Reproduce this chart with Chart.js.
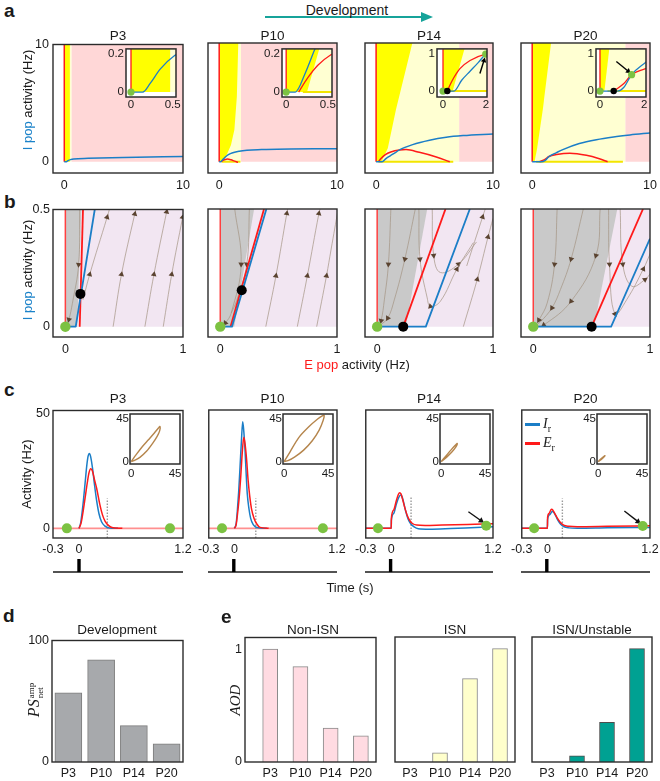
<!DOCTYPE html>
<html>
<head>
<meta charset="utf-8">
<title>E-I network development</title>
<script src="https://cdn.jsdelivr.net/npm/chart.js@4.4.1/dist/chart.umd.min.js"></script>
<style>
  body { margin: 0; width: 660px; height: 781px; position: relative; overflow: hidden; background: #fff;
         font-family: "Liberation Sans", Arial, sans-serif; color: #1a1a1a; }
  canvas { position: absolute; }
  .txt { position: absolute; white-space: nowrap; line-height: 1; transform: translate(-50%, -50%); font-size: 13px; z-index: 5; }
  .left { transform: translate(0, -50%); }
  .rot { transform: translate(-50%, -50%) rotate(-90deg); }
  .letter { position: absolute; font-weight: bold; font-size: 19px; line-height: 19px; z-index: 5; }
  .serif { font-family: "Liberation Serif", "Times New Roman", serif; }
</style>
</head>
<body>
<svg style="position:absolute;left:260px;top:10px" width="180" height="16">
  <line x1="5" y1="7" x2="166" y2="7" stroke="#16a39a" stroke-width="2"/>
  <polygon points="161,2 173,7 161,12" fill="#16a39a"/>
</svg>
<script>
var ages = ['P3', 'P10', 'P14', 'P20'];

// ---------- a : phase plane, full view and zoomed inset ----------
var aTicks = [0, 10];
var aInsTicksX = [[0, 0.5], [0, 0.5], [0, 2], [0, 2]];
var aInsTicksY = [[0, 0.2], [0, 0.2], [0, 1], [0, 1]];
var aPinkStart = [0.6, 1.85, 7.1, 7.9];
var aYellowP3 = [[0, 0], [0.47, 0], [0.47, 10], [0, 10]];
var aYellowP10 = [[0, 0], [0.25, 0], [0.4, 0.23], [0.65, 0.6], [1.0, 1.4], [1.29, 2.7], [1.5, 5.5], [1.62, 10], [0, 10]];
var aYellowP14 = [[0, 0], [0.45, 0], [1.0, 1.13], [1.7, 4.4], [3.1, 10], [0, 10]];
var aYellowP20 = [[0, 0], [0.2, 0], [0.42, 1.13], [0.9, 4.4], [1.6, 10], [0, 10]];
var aFloorP10 = [[0.2, 0], [1.8, 0]];
var aFloorP14 = [[0.2, 0], [6.6, 0]];
var aFloorP20 = [[0.34, 0], [7.7, 0]];
var aRedAxis = [[0, 0], [0, 10]];
var aBlueP3 = [[0, 0], [0.14, 0], [0.23, 0.045], [0.35, 0.12], [0.52, 0.19], [0.8, 0.25], [2, 0.3], [5, 0.37], [10, 0.45]];
var aBlueP10 = [[0, 0], [0.11, 0], [0.23, 0.1], [0.34, 0.22], [0.5, 0.38], [0.78, 0.6], [1.7, 0.88], [3.6, 1.02], [10, 1.1]];
var aRedP10 = [[0.15, 0], [0.26, 0.075], [0.38, 0.14], [0.52, 0.19], [0.7, 0.22], [1.0, 0.16], [1.3, 0.05], [1.6, -0.05]];
var aBlueP14 = [[0, 0], [0.51, 0], [0.87, 0.29], [1.26, 0.53], [1.65, 0.77], [2.0, 1.0], [3.13, 1.44], [4.57, 1.81], [6.0, 2.06], [7.44, 2.2], [10, 2.34]];
var aRedP14 = [[0.2, 0], [0.4, 0.25], [0.79, 0.6], [1.26, 0.82], [1.99, 0.99], [2.56, 1.02], [3.7, 0.79], [5.15, 0.4], [6.3, 0]];
var aBlueP20 = [[0, 0], [0.8, 0], [1.08, 0.1], [1.43, 0.44], [2.07, 0.77], [2.6, 1.02], [4.0, 1.53], [5.45, 1.86], [6.9, 2.09], [8.3, 2.26], [10, 2.43]];
var aRedP20 = [[0.62, 0], [1.08, 0.2], [1.43, 0.44], [2.07, 0.6], [3.2, 0.71], [4.6, 0.54], [5.7, 0.25], [6.4, 0]];
var aGreenP3 = [[0, 0]];
var aGreenP10 = [[0, 0]];
var aGreenP14 = [[0, 0], [1.99, 0.99]];
var aGreenP20 = [[0, 0], [1.43, 0.44]];
var aBlackP14 = [[0.2, 0]];
var aBlackP20 = [[0.62, 0]];
var aArrowP14 = [[1.72, 0.47], [1.91, 0.82]];
var aArrowP20 = [[0.74, 0.79], [1.28, 0.53]];

// ---------- b : zoom on the low-rate corner with trajectories ----------
var bTicksX = [0, 1];
var bTicksY = [0, 0.5];
var bGrayP3 = [[0, 0], [0.1, 0], [0.136, 0.5], [0, 0.5]];
var bGrayP10 = [[0, 0], [0.12, 0], [0.29, 0.5], [0, 0.5]];
var bGrayP14 = [[0, 0], [0.247, 0], [0.432, 0.5], [0, 0.5]];
var bGrayP20 = [[0, 0], [0.52, 0], [0.72, 0.5], [0, 0.5]];
var bRedAxis = [[0, 0], [0, 0.5]];
var bRedP3 = [[0.122, 0], [0.15, 0.5]];
var bRedP10 = [[0.088, 0], [0.375, 0.5]];
var bRedP14 = [[0.225, 0], [0.59, 0.5]];
var bRedP20 = [[0.5, 0], [0.94, 0.5]];
var bBlueP3 = [[0, 0], [0.088, 0], [0.25, 0.5]];
var bBlueP10 = [[0, 0], [0.1, 0], [0.395, 0.5]];
var bBlueP14 = [[0, 0], [0.42, 0], [0.8, 0.5]];
var bBlueP20 = [[0, 0], [0.667, 0], [1.0, 0.374], [1.11, 0.5]];
var bGreen = [[0, 0]];
var bBlack = [[0.128, 0.14], [0.184, 0.155], [0.225, 0], [0.5, 0]];
var bFlowsP3 = [
  [[0.15, 0.115], [0.207, 0.223], [0.355, 0.467], [0.378, 0.507]],
  [[0.406, 0], [0.477, 0.223], [0.59, 0.481], [0.605, 0.507]],
  [[0.676, 0], [0.753, 0.223], [0.861, 0.49], [0.87, 0.507]],
  [[0.832, 0], [0.904, 0.223], [0.997, 0.467], [1.01, 0.5]],
  [[0.122, 0.507], [0.113, 0.265], [0.06, 0.1], [0.03, 0.03], [0.01, 0.005]]
];
var bHeadsP3 = [[1, 2], [1, 2], [1, 2], [1, 2], [1, 3]];
var bFlowsP10 = [
  [[0.122, 0.507], [0.179, 0.265], [0.094, 0.058], [0.043, 0.015], [0.01, 0.003]],
  [[0.25, 0.507], [0.227, 0.265], [0.14, 0.11], [0.094, 0.058]],
  [[0.39, 0], [0.477, 0.216], [0.57, 0.481], [0.58, 0.507]],
  [[0.66, 0], [0.746, 0.216], [0.845, 0.481], [0.86, 0.507]],
  [[0.826, 0], [0.91, 0.216], [0.95, 0.33], [1.01, 0.5]]
];
var bHeadsP10 = [[1, 3], [1], [1, 2], [1, 2], [1]];
var bFlowsP14 = [
  [[0.119, 0.507], [0.097, 0.265], [0.062, 0.114], [0.034, 0.025], [0.01, 0.003]],
  [[0.332, 0.507], [0.239, 0.287], [0.148, 0.114], [0.091, 0.036], [0.02, 0.004]],
  [[0.36, 0.507], [0.37, 0.287], [0.432, 0.122], [0.46, 0.086], [0.546, 0.108], [0.688, 0.244], [0.83, 0.357]],
  [[0.475, 0.507], [0.488, 0.302], [0.546, 0.23], [0.702, 0.266], [0.858, 0.36]],
  [[0.744, 0], [0.864, 0.201], [0.957, 0.381], [1.0, 0.46]],
  [[0.773, 0.258], [0.91, 0.466], [0.937, 0.506]]
];
var bHeadsP14 = [[1, 3], [1, 3], [1, 3, 5], [1, 3], [1, 2], [1]];
var bFlowsP20 = [
  [[0.205, 0.507], [0.182, 0.265], [0.119, 0.1], [0.048, 0.028], [0.01, 0.003]],
  [[0.432, 0.507], [0.324, 0.287], [0.233, 0.158], [0.16, 0.08], [0.06, 0.02], [0.01, 0.003]],
  [[0.574, 0.507], [0.537, 0.302], [0.324, 0.108], [0.09, 0.007], [0.02, 0.001]],
  [[0.645, 0.507], [0.653, 0.265], [0.7, 0.054], [0.801, 0.115], [0.943, 0.245], [1.01, 0.32]],
  [[0.744, 0.507], [0.767, 0.265], [0.844, 0.172], [0.957, 0.2], [1.01, 0.23]]
];
var bHeadsP20 = [[1, 3], [1, 3], [1, 2, 3], [1, 2, 4], [1, 3]];

// ---------- c : responses to a brief stimulus (time in s, rate in Hz) ----------
var cTicksX = [-0.3, 0, 1.2];
var cTicksY = [0, 50];
var cInsTicks = [0, 45];
var cBase = [[-0.3, 0], [1.2, 0]];
var cP3I = [[0, 0], [0.02, 2.5], [0.045, 10], [0.07, 19.6], [0.09, 27.5], [0.105, 31.5], [0.12, 32.6], [0.135, 31.2], [0.155, 26.5], [0.177, 19.6], [0.2, 13], [0.23, 6.5], [0.26, 2.9], [0.3, 1.0], [0.35, 0.2], [0.45, 0]];
var cP3E = [[0, 0], [0.025, 2.5], [0.05, 8], [0.075, 14.5], [0.096, 20], [0.115, 24.2], [0.135, 26], [0.155, 25], [0.18, 21], [0.204, 17.4], [0.24, 10.5], [0.27, 6], [0.3, 3.2], [0.34, 1.3], [0.38, 0.4], [0.5, 0]];
var cP10I = [[0, 0], [0.02, 2], [0.035, 8], [0.05, 16], [0.066, 26.8], [0.082, 38], [0.097, 46.3], [0.11, 42], [0.124, 34], [0.137, 24], [0.15, 15.2], [0.17, 8.5], [0.19, 4.3], [0.22, 1.6], [0.26, 0.4], [0.38, 0]];
var cP10E = [[0, 0], [0.02, 1.5], [0.035, 5.8], [0.055, 13], [0.074, 22.4], [0.092, 33], [0.11, 39.6], [0.125, 36.5], [0.143, 29.7], [0.16, 21], [0.18, 13.7], [0.2, 8.5], [0.23, 4.3], [0.26, 2], [0.3, 0.4], [0.4, 0]];
var cP14I = [[-0.3, 0], [0, 0], [0.002, 3.5], [0.03, 6.5], [0.06, 10.5], [0.09, 13.5], [0.11, 14.5], [0.125, 14], [0.145, 11.5], [0.17, 7.5], [0.2, 4], [0.23, 2], [0.27, 0.6], [0.32, -0.2], [0.45, -0.4], [0.7, -0.1], [1.0, 0.4], [1.2, 0.7]];
var cP14E = [[-0.3, 0], [0, 0], [0.002, 4.5], [0.03, 8], [0.06, 12], [0.085, 14.8], [0.1, 15.5], [0.115, 15], [0.135, 12.5], [0.16, 9], [0.19, 5.5], [0.22, 3.3], [0.25, 2.1], [0.3, 1.4], [0.4, 1.2], [0.6, 1.4], [0.9, 1.7], [1.2, 2.0]];
var cP20I = [[-0.3, 0], [0, 0], [0.002, 3.8], [0.03, 6], [0.055, 7.3], [0.07, 7.1], [0.095, 5.6], [0.125, 3.4], [0.155, 1.8], [0.19, 0.8], [0.25, 0.2], [0.35, 0], [0.7, 0.2], [1.2, 0.4]];
var cP20E = [[-0.3, 0], [0, 0], [0.002, 4.8], [0.02, 6.5], [0.04, 8], [0.05, 8.3], [0.065, 7.8], [0.09, 6.2], [0.12, 4.2], [0.15, 2.6], [0.19, 1.4], [0.25, 0.9], [0.35, 0.7], [0.7, 0.85], [1.2, 1.1]];
var cDotX = [0.327, 0.25, 0.234, 0.175];
var cDotTop = [13, 13, 13.7, 13];
var cGreenP3 = [[-0.14, 0], [1.05, 0]];
var cGreenP10 = [[-0.145, 0], [1.035, 0]];
var cGreenP14 = [[-0.156, 0], [1.12, 1.1]];
var cGreenP20 = [[-0.155, 0], [1.115, 1.0]];
var cArrowP14 = [[0.91, 7.2], [1.06, 3.3]];
var cArrowP20 = [[0.9, 7.5], [1.06, 2.9]];
var cLoopP3 = [[0, 0], [5, 7], [11, 15], [18, 23], [24, 30], [28, 35], [29.6, 36.6], [29.2, 32], [26.5, 26], [22, 19], [16, 11], [9, 4.5], [3, 1], [0, 0]];
var cLoopP10 = [[0, 0], [6, 10], [15, 25], [25, 36], [34, 44], [39, 47.5], [41, 48], [40, 43], [36, 33], [29, 22], [20, 12], [11, 5], [4, 1], [0, 0]];
var cLoopP14 = [[0, 0], [5, 6], [10, 12], [14, 16.5], [16.5, 19], [15, 15], [11, 10], [6, 5], [2, 1.5], [0, 0]];
var cLoopP20 = [[0, 0], [3, 3], [7, 6.2], [6, 4.8], [3, 2], [0, 0]];
var stimSpan = [[-0.3, 0], [1.2, 0]];
var stimPulse = [[0, 0], [0, 1]];

// ---------- d / e : bar summaries ----------
var dTicksY = [0, 100];
var dValues = [57, 84, 30, 15];
var eTicksY = [0, 1];
var eNonISN = [1.0, 0.845, 0.3, 0.232];
var eISN = [0, 0.08, 0.735, 1.0];
var eUnstable = [0, 0.055, 0.35, 1.0];

// ---------- styles ----------
var RED = '#ff1a1a', BLUE = '#1b7ec7', GREEN = '#7cc242', PINK = '#ffd7d7', YELLOW = '#ffff00',
    CREAM = '#ffffd2', LAV = '#f2e6f2', GRAY = '#c9c9c9', FLOW = '#a39383', HEAD = '#5a4330',
    TAN = '#b5854c';
var colX = [53, 208, 365, 521];
var colW = [130, 129, 128, 129];

Chart.defaults.font.family = '"Liberation Sans", Arial, sans-serif';
Chart.defaults.font.size = 12.5;
Chart.defaults.color = '#1a1a1a';

// box around every plot area, optional white fill for the insets
Chart.register({
  id: 'frame',
  defaults: {lw: 1.4},
  beforeDatasetsDraw: function (chart, args, opts) {
    if (!opts.bg) return;
    var a = chart.chartArea, ctx = chart.ctx;
    ctx.save();
    ctx.fillStyle = opts.bg;
    ctx.fillRect(a.left, a.top, a.right - a.left, a.bottom - a.top);
    ctx.restore();
  },
  afterDatasetsDraw: function (chart, args, opts) {
    if (opts.off) return;
    var a = chart.chartArea, ctx = chart.ctx;
    ctx.save();
    ctx.strokeStyle = '#2b2b2b';
    ctx.lineWidth = opts.lw;
    ctx.strokeRect(a.left, a.top, a.right - a.left, a.bottom - a.top);
    ctx.restore();
  }
});

function pts(a) {
  return a.map(function (p) { return {x: p[0], y: p[1]}; });
}

function place(box, m) {
  var cv = document.createElement('canvas');
  var w = box.w + m.l + m.r, h = box.h + m.t + m.b;
  cv.width = w;
  cv.height = h;
  cv.style.cssText = 'left:' + (box.x - m.l) + 'px;top:' + (box.y - m.t) + 'px;width:' + w + 'px;height:' + h + 'px';
  document.body.appendChild(cv);
  return cv;
}

function axis(s, size) {
  return {
    type: 'linear', min: s.min, max: s.max, bounds: 'data', offset: false,
    grid: {display: false, drawTicks: false},
    border: {display: false},
    ticks: {
      display: !!s.show, autoSkip: false, maxRotation: 0, padding: s.pad || 3,
      font: {size: s.font || 12.5}, color: '#1a1a1a',
      callback: s.fmt || function (v) { return String(v); }
    },
    afterBuildTicks: function (sc) { sc.ticks = s.ticks.map(function (v) { return {value: v}; }); },
    afterFit: function (sc) { if (sc.isHorizontal()) sc.height = size; else sc.width = size; }
  };
}

function makeChart(box, m, xs, ys, datasets, frame, type) {
  return new Chart(place(box, m), {
    type: type || 'line',
    data: {datasets: datasets},
    options: {
      responsive: false, animation: false, devicePixelRatio: 1, events: [],
      layout: {padding: {top: m.t, right: m.r, left: 0, bottom: 0}},
      scales: {x: axis(xs, m.b), y: axis(ys, m.l)},
      plugins: {legend: {display: false}, tooltip: {enabled: false}, frame: frame || {}}
    }
  });
}

function headAngle(ctx) {
  var d = ctx.dataset.data, i = ctx.dataIndex;
  var p = d[i - 1] || d[i], n = d[i + 1] || d[i];
  var sx = ctx.chart.scales.x, sy = ctx.chart.scales.y;
  var dx = sx.getPixelForValue(n.x) - sx.getPixelForValue(p.x);
  var dy = sy.getPixelForValue(n.y) - sy.getPixelForValue(p.y);
  return Math.atan2(dx, -dy) * 180 / Math.PI;
}

function region(poly, color, order) {
  return {data: pts(poly), fill: 'shape', backgroundColor: color, borderColor: 'rgba(0,0,0,0)',
          borderWidth: 0, pointRadius: 0, tension: 0, order: order};
}

function curve(a, color, width, order, smooth, dash) {
  return {data: pts(a), borderColor: color, borderWidth: width, order: order, pointRadius: 0,
          fill: false, tension: smooth === 'loop' ? 0.3 : 0,
          cubicInterpolationMode: smooth === true ? 'monotone' : 'default',
          borderDash: dash || [], borderJoinStyle: 'round'};
}

function dots(a, color, r, order) {
  return {data: pts(a), showLine: false, pointRadius: r, pointBackgroundColor: color,
          pointBorderWidth: 0, order: order};
}

function arrow(a, color, width, head) {
  return {data: pts(a), borderColor: color, borderWidth: width, order: 3, tension: 0,
          pointStyle: 'triangle', pointBackgroundColor: color, pointBorderWidth: 0,
          pointRadius: function (ctx) { return ctx.dataIndex === a.length - 1 ? head : 0; },
          pointRotation: headAngle};
}

function flow(a, heads) {
  return {data: pts(a), borderColor: FLOW, borderWidth: 0.7, order: 20, tension: 0.4,
          pointStyle: 'triangle', pointBackgroundColor: HEAD, pointBorderWidth: 0,
          pointRadius: function (ctx) { return heads.indexOf(ctx.dataIndex) >= 0 ? 3.3 : 0; },
          pointRotation: headAngle};
}

function text(html, x, y, size, cls) {
  var d = document.createElement('div');
  d.className = 'txt' + (cls ? ' ' + cls : '');
  d.style.left = x + 'px';
  d.style.top = y + 'px';
  if (size) d.style.fontSize = size + 'px';
  d.innerHTML = html;
  document.body.appendChild(d);
  return d;
}

function letter(ch, x, y) {
  var d = document.createElement('div');
  d.className = 'letter';
  d.style.left = x + 'px';
  d.style.top = y + 'px';
  d.textContent = ch;
  document.body.appendChild(d);
}

// ---------- panel a ----------
var aYellow = [aYellowP3, aYellowP10, aYellowP14, aYellowP20];
var aFloor = [null, aFloorP10, aFloorP14, aFloorP20];
var aBlue = [aBlueP3, aBlueP10, aBlueP14, aBlueP20];
var aRed = [null, aRedP10, aRedP14, aRedP20];
var aGreen = [aGreenP3, aGreenP10, aGreenP14, aGreenP20];
var aBlack = [null, null, aBlackP14, aBlackP20];
var aArrow = [null, null, aArrowP14, aArrowP20];
var aInsX = [126, 282, 437, 596];
var aInsRangeX = [[-0.06, 0.54], [-0.05, 0.55], [-0.28, 2.05], [-0.18, 2.08]];
var aInsRangeY = [[-0.026, 0.226], [-0.026, 0.226], [-0.16, 1.13], [-0.16, 1.13]];

function aSets(i, inset) {
  var top = aTicks[1], right = aTicks[1], lw = inset ? 1.3 : 1.5;
  var s = [
    region([[aPinkStart[i], 0], [right, 0], [right, top], [aPinkStart[i], top]], PINK, 30),
    region([[0, 0], [aPinkStart[i], 0], [aPinkStart[i], top], [0, top]], CREAM, 29),
    region(aYellow[i], YELLOW, 28)
  ];
  if (aFloor[i]) s.push(curve(aFloor[i], '#f3e500', 2, 27));
  s.push(curve(aRedAxis, RED, lw, 10));
  if (aRed[i]) s.push(curve(aRed[i], RED, lw, 9, true));
  s.push(curve(aBlue[i], BLUE, lw, 8, true));
  if (inset) {
    s.push(dots(aGreen[i], GREEN, 3.6, 2));
    if (aBlack[i]) s.push(dots(aBlack[i], '#000', 3.2, 1));
    if (aArrow[i]) s.push(arrow(aArrow[i], '#000', 1.4, 3.2));
  }
  return s;
}

for (var i = 0; i < 4; i++) {
  makeChart({x: colX[i], y: 43, w: colW[i], h: 130}, {l: i ? 14 : 30, r: 14, t: 10, b: 22},
    {min: -0.95, max: 10, ticks: aTicks, show: true, pad: 5},
    {min: -0.95, max: 10, ticks: aTicks, show: i === 0, pad: 4},
    aSets(i, false));
}
for (i = 0; i < 4; i++) {
  makeChart({x: aInsX[i], y: 48, w: 50, h: 49}, {l: 22, r: 10, t: 8, b: 14},
    {min: aInsRangeX[i][0], max: aInsRangeX[i][1], ticks: aInsTicksX[i], show: true, pad: 1, font: 11.5},
    {min: aInsRangeY[i][0], max: aInsRangeY[i][1], ticks: aInsTicksY[i], show: true, pad: 2, font: 11.5},
    aSets(i, true), {bg: '#fff', lw: 1.5});
}

// ---------- panel b ----------
var bGray = [bGrayP3, bGrayP10, bGrayP14, bGrayP20];
var bRed = [bRedP3, bRedP10, bRedP14, bRedP20];
var bBlue = [bBlueP3, bBlueP10, bBlueP14, bBlueP20];
var bFlows = [bFlowsP3, bFlowsP10, bFlowsP14, bFlowsP20];
var bHeads = [bHeadsP3, bHeadsP10, bHeadsP14, bHeadsP20];

function bSets(i) {
  var top = bTicksY[1], right = bTicksX[1] + 0.2;
  var s = [
    region([[0, 0], [right, 0], [right, top], [0, top]], LAV, 30),
    region(bGray[i], GRAY, 29)
  ];
  bFlows[i].forEach(function (f, k) { s.push(flow(f, bHeads[i][k])); });
  s.push(curve(bRedAxis, '#ff4040', 1.5, 10));
  s.push(curve(bRed[i], RED, 1.8, 9));
  s.push(curve(bBlue[i], BLUE, 1.8, 8));
  s.push(dots(bGreen, GREEN, 5.2, 2));
  s.push(dots([bBlack[i]], '#000', 5, 1));
  return s;
}

for (i = 0; i < 4; i++) {
  makeChart({x: colX[i], y: 209, w: colW[i], h: 128}, {l: i ? 14 : 30, r: 14, t: 10, b: 22},
    {min: -0.105, max: 1, ticks: bTicksX, show: true, pad: 5},
    {min: -0.044, max: 0.5, ticks: bTicksY, show: i === 0, pad: 3},
    bSets(i));
}

// ---------- panel c ----------
var cI = [cP3I, cP10I, cP14I, cP20I];
var cE = [cP3E, cP10E, cP14E, cP20E];
var cGreen = [cGreenP3, cGreenP10, cGreenP14, cGreenP20];
var cArrow = [null, null, cArrowP14, cArrowP20];
var cLoop = [cLoopP3, cLoopP10, cLoopP14, cLoopP20];
var cInsX = [130, 283, 440, 597];
var cYMin = -4.2;

function cSets(i) {
  var s = [];
  if (i < 2) s.push(curve(cBase, '#ff8f8f', 1.6, 12));
  s.push(curve([[cDotX[i], cYMin], [cDotX[i], cDotTop[i]]], '#9a9a9a', 1.4, 11, false, [1.5, 1.5]));
  s.push(curve(cI[i], BLUE, 1.5, 9, true));
  s.push(curve(cE[i], RED, 1.5, 8, true));
  s.push(dots(cGreen[i], GREEN, 5, 2));
  if (cArrow[i]) s.push(arrow(cArrow[i], '#111', 1.4, 3.5));
  return s;
}

for (i = 0; i < 4; i++) {
  makeChart({x: colX[i], y: 410, w: colW[i], h: 128}, {l: i ? 14 : 30, r: 14, t: 10, b: 20},
    {min: -0.3, max: 1.2, ticks: cTicksX, show: true, pad: 4},
    {min: cYMin, max: 51.4, ticks: cTicksY, show: i === 0, pad: 3},
    cSets(i));
  makeChart({x: colX[i], y: 559, w: colW[i], h: 15}, {l: 2, r: 2, t: 2, b: 2},
    {min: -0.3, max: 1.2, ticks: []}, {min: -0.15, max: 1, ticks: []},
    [curve(stimSpan, '#1a1a1a', 1.6, 2), curve(stimPulse, '#000', 3.4, 1)], {off: true});
}
for (i = 0; i < 4; i++) {
  makeChart({x: cInsX[i], y: 414, w: 50, h: 50}, {l: 18, r: 10, t: 8, b: 14},
    {min: -1.1, max: 50, ticks: cInsTicks, show: true, pad: 0, font: 11.5},
    {min: -2.4, max: 49.5, ticks: cInsTicks, show: true, pad: 1, font: 11.5},
    [curve(cLoop[i], TAN, 1.4, 5, 'loop')], {bg: '#fff', lw: 1.5});
}

// ---------- panels d and e ----------
function barSet(values, fill, edge) {
  return [{data: values.map(function (v, k) { return {x: k, y: v}; }),
           backgroundColor: fill, borderColor: edge, borderWidth: 1}];
}
function ageLabel(v) { return ages[v]; }

var dSet = barSet(dValues, '#a7a9ac', '#7c7c7c');
dSet[0].barThickness = 27;
makeChart({x: 52, y: 640, w: 131, h: 122}, {l: 32, r: 10, t: 10, b: 20},
  {min: -0.5, max: 3.5, ticks: [0, 1, 2, 3], show: true, pad: 4, fmt: ageLabel},
  {min: 0, max: 100, ticks: dTicksY, show: true, pad: 3},
  dSet, {}, 'bar');

var eBoxes = [{x: 245, y: 637, w: 131, h: 125}, {x: 395, y: 637, w: 120, h: 125}, {x: 532, y: 637, w: 120, h: 125}];
var eXMin = [-0.833, -0.5, -0.5];
var eSeries = [eNonISN, eISN, eUnstable];
var eFill = ['#ffdbe2', '#ffffcc', '#00a192'];
var eEdge = ['#8a8a8a', '#8a8a8a', '#4d4d4d'];
for (i = 0; i < 3; i++) {
  var es = barSet(eSeries[i], eFill[i], eEdge[i]);
  es[0].barThickness = 15;
  makeChart(eBoxes[i], {l: 16, r: 10, t: 10, b: 20},
    {min: eXMin[i], max: 3.5, ticks: [0, 1, 2, 3], show: true, pad: 4, fmt: ageLabel},
    {min: 0, max: 1.103, ticks: eTicksY, show: i === 0, pad: 3},
    es, {}, 'bar');
}

// ---------- text ----------
letter('a', 4, 1);
letter('b', 4, 192);
letter('c', 4, 380);
letter('d', 3, 606);
letter('e', 221, 607);

text('Development', 347, 10, 14);
var colMid = [118, 272.5, 429, 585.5];
for (i = 0; i < 4; i++) {
  text(ages[i], colMid[i], 35.5, 13.5);
  text(ages[i], colMid[i], 399, 13.5);
}
text('<span style="color:#1b82c9">I pop</span> activity (Hz)', 27, 100, 13, 'rot');
text('<span style="color:#1b82c9">I pop</span> activity (Hz)', 27, 270, 13, 'rot');
text('<span style="color:#ff1a1a">E pop</span> activity (Hz)', 357, 364, 13);
text('Activity (Hz)', 26, 474, 13, 'rot');
text('Time (s)', 350, 587, 13);
text('Development', 117, 630, 13.5);
text('Non-ISN', 313, 630, 13.5);
text('ISN', 455, 630, 13.5);
text('ISN/Unstable', 592, 630, 13.5);
text('<span class="serif" style="font-style:italic;font-size:15px">AOD</span>', 235, 700, 15, 'rot');
text('<span class="serif" style="font-style:italic;font-size:16px">PS</span>' +
     '<span class="serif" style="display:inline-block;font-size:9px;line-height:9px;vertical-align:-4px;margin-left:1px">amp<br>net</span>',
     35, 700, 16, 'rot');

// legend of panel c, P20
var legColor = [BLUE, RED];
var legText = ['<i>I</i>', '<i>E</i>'];
var legY = [424, 443];
for (i = 0; i < 2; i++) {
  var ln = document.createElement('div');
  ln.style.cssText = 'position:absolute;z-index:5;left:525px;width:15px;height:2.5px;top:' + (legY[i] - 1) + 'px;background:' + legColor[i];
  document.body.appendChild(ln);
  text('<span class="serif" style="font-size:14px">' + legText[i] + '<sub style="font-size:10px">r</sub></span>', 543, legY[i] + 1, 14, 'left');
}
</script>
</body>
</html>
